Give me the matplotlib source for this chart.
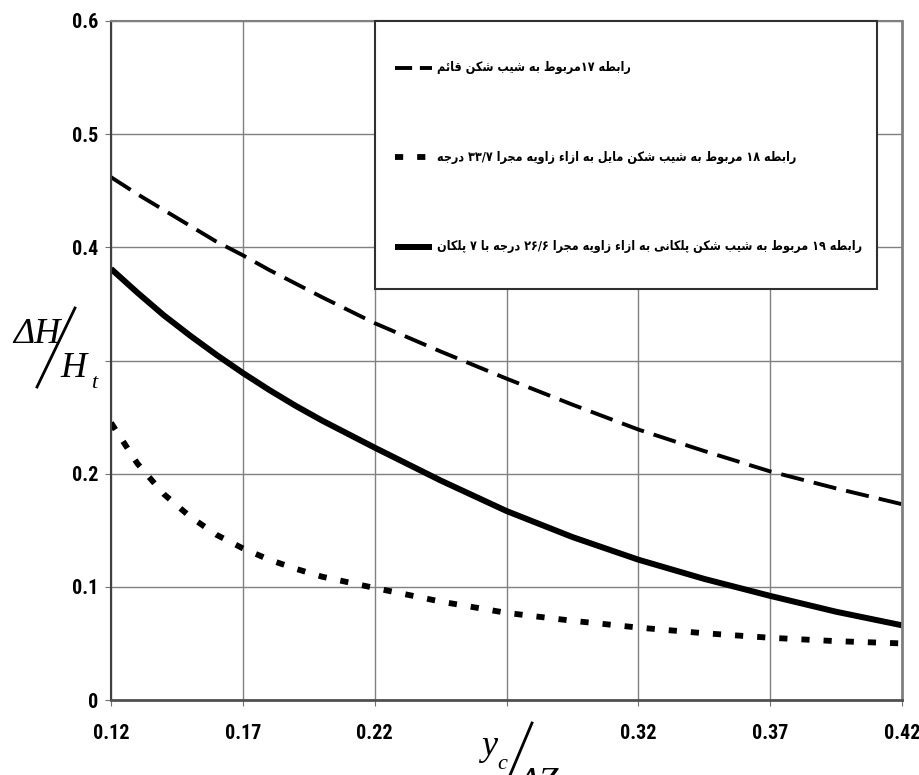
import re

import matplotlib
matplotlib.use("Agg")
import matplotlib.pyplot as plt
from matplotlib.lines import Line2D
from matplotlib.patches import Rectangle

# relative critical depth y_c / dZ
ratio = [0.12, 0.13, 0.14, 0.15, 0.16, 0.17, 0.18, 0.19, 0.20, 0.22,
         0.245, 0.27, 0.295, 0.32, 0.345, 0.37, 0.395, 0.42]

# relative energy loss dH / H_t
loss_vertical = [0.462, 0.447, 0.433, 0.419, 0.405, 0.393, 0.380, 0.368, 0.356, 0.333,
                 0.308, 0.284, 0.261, 0.239, 0.220, 0.202, 0.187, 0.173]
loss_inclined = [0.245, 0.209, 0.182, 0.162, 0.146, 0.134, 0.124, 0.116, 0.109, 0.099,
                 0.087, 0.077, 0.070, 0.064, 0.059, 0.055, 0.052, 0.050]
loss_stepped = [0.381, 0.360, 0.340, 0.322, 0.305, 0.289, 0.274, 0.260, 0.247, 0.223,
                0.194, 0.167, 0.144, 0.124, 0.107, 0.092, 0.078, 0.066]

labels = [
    "رابطه ۱۷مربوط به شیب شکن قائم",
    "رابطه ۱۸ مربوط به شیب شکن مایل به ازاء زاویه مجرا ۳۳/۷ درجه",
    "رابطه ۱۹ مربوط به شیب شکن پلکانی به ازاء زاویه مجرا ۲۶/۶ درجه با ۷ پلکان",
]

x_ticks = [0.12, 0.17, 0.22, 0.27, 0.32, 0.37, 0.42]
x_tick_labels = ["0.12", "0.17", "0.22", "", "0.32", "0.37", "0.42"]
y_ticks = [0, 0.1, 0.2, 0.3, 0.4, 0.5, 0.6]
y_tick_labels = ["0", "0.1", "0.2", "", "0.4", "0.5", "0.6"]

# isolated, final, initial, medial presentation forms
FORMS = {
    "\u0621": ("\ufe80", None, None, None),
    "\u0626": ("\ufe89", "\ufe8a", "\ufe8b", "\ufe8c"),
    "\u0627": ("\ufe8d", "\ufe8e", None, None),
    "\u0628": ("\ufe8f", "\ufe90", "\ufe91", "\ufe92"),
    "\u067e": ("\ufb56", "\ufb57", "\ufb58", "\ufb59"),
    "\u062c": ("\ufe9d", "\ufe9e", "\ufe9f", "\ufea0"),
    "\u062f": ("\ufea9", "\ufeaa", None, None),
    "\u0631": ("\ufead", "\ufeae", None, None),
    "\u0632": ("\ufeaf", "\ufeb0", None, None),
    "\u0634": ("\ufeb5", "\ufeb6", "\ufeb7", "\ufeb8"),
    "\u0637": ("\ufec1", "\ufec2", "\ufec3", "\ufec4"),
    "\u0642": ("\ufed5", "\ufed6", "\ufed7", "\ufed8"),
    "\u06a9": ("\ufb8e", "\ufb8f", "\ufb90", "\ufb91"),
    "\u06af": ("\ufb92", "\ufb93", "\ufb94", "\ufb95"),
    "\u0644": ("\ufedd", "\ufede", "\ufedf", "\ufee0"),
    "\u0645": ("\ufee1", "\ufee2", "\ufee3", "\ufee4"),
    "\u0646": ("\ufee5", "\ufee6", "\ufee7", "\ufee8"),
    "\u0647": ("\ufee9", "\ufeea", "\ufeeb", "\ufeec"),
    "\u0648": ("\ufeed", "\ufeee", None, None),
    "\u06cc": ("\ufbfc", "\ufbfd", "\ufbfe", "\ufbff"),
}


def shape_fa(text):
    """Join Persian letters and put the line in visual (left-to-right) order."""
    out = []
    for i, ch in enumerate(text):
        if ch not in FORMS:
            out.append(ch)
            continue
        prev = text[i - 1] if i > 0 else ""
        nxt = text[i + 1] if i + 1 < len(text) else ""
        joins_prev = prev in FORMS and FORMS[prev][2] is not None and FORMS[ch][1] is not None
        joins_next = nxt in FORMS and FORMS[nxt][1] is not None and FORMS[ch][2] is not None
        if joins_prev and joins_next:
            out.append(FORMS[ch][3])
        elif joins_prev:
            out.append(FORMS[ch][1])
        elif joins_next:
            out.append(FORMS[ch][2])
        else:
            out.append(FORMS[ch][0])
    runs = re.findall(r"[\u06f0-\u06f9/]+|[^\u06f0-\u06f9/]+", "".join(out))
    visual = [r if re.match(r"[\u06f0-\u06f9]", r) else r[::-1] for r in runs]
    return "".join(reversed(visual))


tick_font = dict(family=["Roboto Condensed", "Liberation Sans"], weight="bold",
                 stretch="condensed", size=14.5)

fig = plt.figure(figsize=(9.2, 7.75), dpi=100)
ax = fig.add_axes([111 / 920, 1 - 700 / 775, 791 / 920, 679 / 775])

styles = [
    dict(linestyle=(0, (6, 2.6)), linewidth=2.8),
    dict(linestyle=(0, (1.4, 2.4)), linewidth=4.2),
    dict(linestyle="-", linewidth=4.3),
]
for series, st in zip([loss_vertical, loss_inclined, loss_stepped], styles):
    ax.plot(ratio, series, color="black", solid_capstyle="butt", **st)

ax.set_xlim(0.12, 0.42)
ax.set_ylim(0, 0.6)
ax.set_xticks(x_ticks)
ax.set_yticks(y_ticks)
ax.set_xticklabels(x_tick_labels, fontdict=tick_font)
ax.set_yticklabels(y_tick_labels, fontdict=tick_font)
ax.tick_params(axis="x", direction="out", length=4, color="#707070", pad=13)
ax.tick_params(axis="y", direction="out", length=4, color="#707070", pad=5)
ax.grid(True, color="#808080", linewidth=1.0)
ax.set_axisbelow(True)
for side, c, w in [("left", "#404040", 1.5), ("bottom", "#505050", 2.0),
                   ("top", "#808080", 1.5), ("right", "#808080", 2.0)]:
    ax.spines[side].set_color(c)
    ax.spines[side].set_linewidth(w)

# legend box, drawn over the grid; short samples need a tighter dash
ax.add_patch(Rectangle((0.3338, 0.6053), 0.6346, 0.3947, transform=ax.transAxes,
                       facecolor="white", edgecolor="#303030", linewidth=1.5,
                       zorder=5, clip_on=False))
key_styles = [dict(styles[0], linestyle=(0, (4.4, 2.0))), styles[1], styles[2]]
for row_y, st, lab in zip([0.9308, 0.7997, 0.6672], key_styles, labels):
    ax.add_line(Line2D([0.359, 0.4058], [row_y, row_y], transform=ax.transAxes,
                       color="black", zorder=6, solid_capstyle="butt", **st))
    ax.text(0.4121, row_y, shape_fa(lab), transform=ax.transAxes, ha="left",
            va="center", fontsize=9, fontweight="bold", family="DejaVu Sans",
            fontstretch="condensed", zorder=6)

# axis titles written as stacked fractions
serif = dict(family="Liberation Serif", style="italic")
fig.text(13 / 920, 1 - 343 / 775, "ΔH", fontsize=26, **serif)
fig.text(60 / 920, 1 - 377 / 775, "H", fontsize=26, **serif)
fig.text(91 / 920, 1 - 388 / 775, "t", fontsize=16, **serif)
fig.add_artist(Line2D([75 / 920, 37 / 920], [1 - 308 / 775, 1 - 387 / 775],
                      transform=fig.transFigure, color="black", linewidth=2))

fig.text(481 / 920, 1 - 755 / 775, "y", fontsize=26, **serif)
fig.text(497 / 920, 1 - 769 / 775, "c", fontsize=16, **serif)
fig.text(517 / 920, 1 - 792 / 775, "ΔZ", fontsize=26, **serif)
fig.add_artist(Line2D([532 / 920, 508 / 920], [1 - 723 / 775, 1 - 780 / 775],
                      transform=fig.transFigure, color="black", linewidth=2))

fig.savefig("out.png", dpi=100, facecolor="white")
